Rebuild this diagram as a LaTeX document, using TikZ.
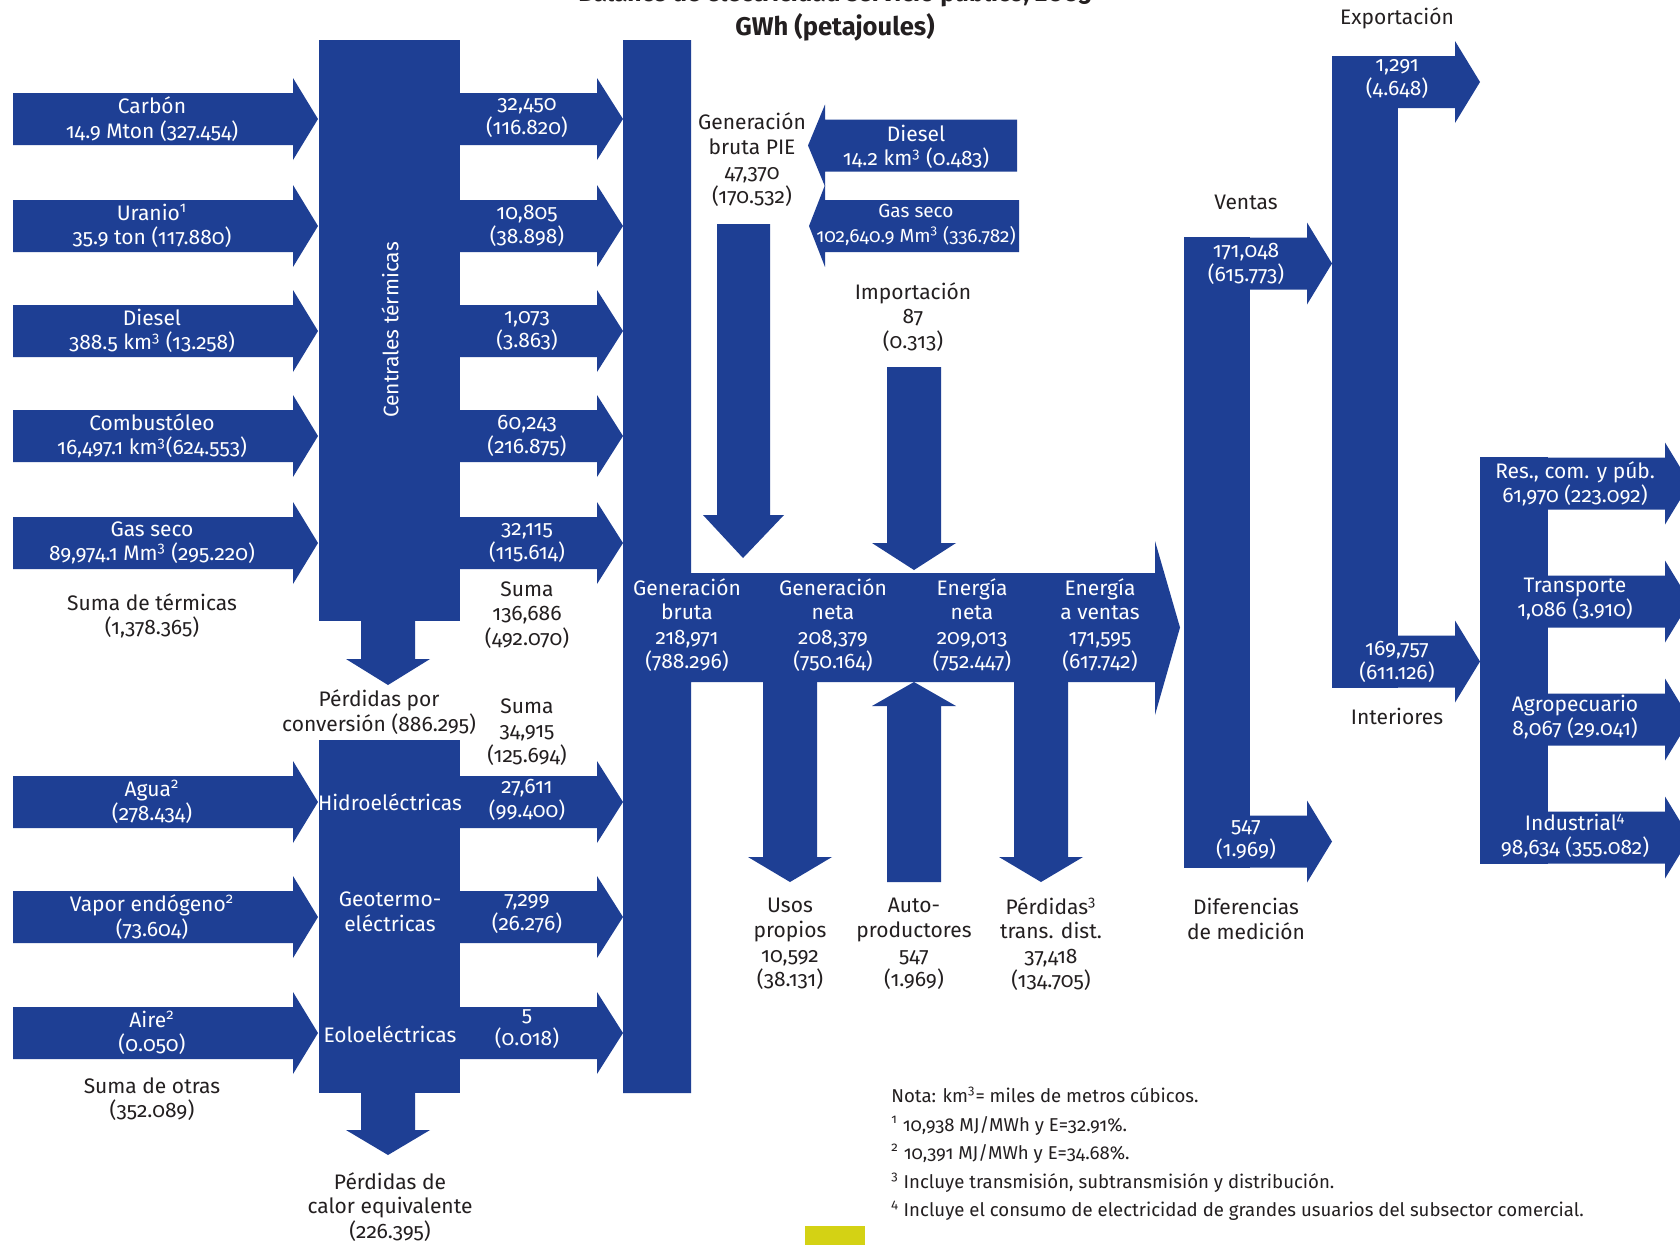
\documentclass[tikz,border=0pt]{standalone}
\usepackage{fontspec}
\setmainfont{Fira Sans}[Numbers=OldStyle]
\usepackage{tikz}
\tikzset{>=latex}
\usetikzlibrary{positioning}
\definecolor{azul}{RGB}{30,63,148}
\definecolor{olivo}{RGB}{212,210,20}
\definecolor{tinta}{RGB}{35,31,32}
\newcommand{\flecha}[4]{\fill[azul] (#1,#4-26) -- (#2,#4-26) -- (#2,#4-41) -- (#3,#4) -- (#2,#4+41) -- (#2,#4+26) -- (#1,#4+26) -- cycle;}
\newcommand{\flechav}[4]{\fill[azul] (#1-27,#2) -- (#1+27,#2) -- (#1+27,#3) -- (#1+42,#3) -- (#1,#4) -- (#1-42,#3) -- (#1-27,#3) -- cycle;}

\begin{document}
\begin{tikzpicture}[x=0.5pt,y=-0.5pt,
  blanco/.style={text=white,align=center,inner sep=0pt,font=\fontsize{10.5}{12.3}\selectfont},
  negro/.style={text=tinta,align=center,inner sep=0pt,font=\fontsize{10.5}{12.3}\selectfont}]
\useasboundingbox (0,0) rectangle (1680,1244);
\fill[white] (0,0) rectangle (1680,1244);

\node[text=tinta,anchor=base,font=\bfseries\fontsize{12.3}{14}\selectfont] (titulo) at (835,1) {Balance de electricidad servicio público, 2005};
\node[text=tinta,font=\bfseries\fontsize{12.8}{14}\selectfont] (unidades) at (835,27) {GWh (petajoules)};

% centrales
\fill[azul] (319,40) rectangle (460,621);
\fill[azul] (319,740) rectangle (460,1093);
\flechav{388}{621}{659}{685}
\flechav{388}{1093}{1130}{1155}
\foreach \y in {119,226,331,436,543,802,917,1033} {
  \flecha{13}{293}{318}{\y}
  \flecha{460}{597}{623}{\y}
}

% generacion bruta y flujo principal
\fill[azul] (623,40) -- (691,40) -- (691,573) -- (1155,573) -- (1155,541) -- (1180,627.5) -- (1155,715) -- (1155,682) -- (691,682) -- (691,1093) -- (623,1093) -- cycle;
\flecha{1017}{825}{808}{145.5}
\flecha{1019}{825}{809}{226}
\fill[azul] (717,224) -- (770,224) -- (770,515) -- (784,515) -- (743,558) -- (703,515) -- (717,515) -- cycle;
\flechav{914}{367}{543}{570}
\flechav{790}{682}{857}{882}
\flechav{914}{882}{706}{682}
\flechav{1041}{682}{857}{882}

% ventas, exportacion y sectores
\fill[azul] (1184,237) rectangle (1250,868);
\flecha{1184}{1307}{1332}{263.5}
\flecha{1184}{1307}{1332}{841.5}
\fill[azul] (1332,56) rectangle (1398,688);
\flecha{1332}{1455}{1480}{82}
\flecha{1332}{1455}{1480}{661.5}
\fill[azul] (1480,457) rectangle (1548,864);
\foreach \y in {483.5,601.5,719.5,837.5}
  \flecha{1480}{1665}{1690}{\y}
\fill[olivo] (805,1226) rectangle (865,1250);

% textos
\node[blanco] (carbon) at (152,119) {Carbón\\14.9 Mton (327.454)};
\node[blanco] (uranio) at (152,226) {Uranio\textsuperscript{1}\\35.9 ton (117.880)};
\node[blanco] (diesel) at (152,331) {Diesel\\388.5 km\textsuperscript{3} (13.258)};
\node[blanco] (combust) at (152,436) {Combustóleo\\16,497.1 km\textsuperscript{3}(624.553)};
\node[blanco] (gasseco) at (152,543) {Gas seco\\89,974.1 Mm\textsuperscript{3} (295.220)};
\node[negro] (sumaterm) at (152,616) {Suma de térmicas\\(1,378.365)};
\node[blanco,rotate=90] (centrales) at (390,330) {Centrales térmicas};
\node[blanco] (salcarbon) at (527,118) {32,450\\(116.820)};
\node[blanco] (saluranio) at (527,226) {10,805\\(38.898)};
\node[blanco] (saldiesel) at (527,331) {1,073\\(3.863)};
\node[blanco] (salcombust) at (527,436) {60,243\\(216.875)};
\node[blanco] (salgas) at (527,543) {32,115\\(115.614)};
\node[negro] (sumauno) at (527,615) {Suma\\136,686\\(492.070)};
\node[negro] (perdconv) at (379,712) {Pérdidas por\\conversión (886.295)};
\node[negro] (sumados) at (527,732) {Suma\\34,915\\(125.694)};

\node[blanco] (agua) at (152,802) {Agua\textsuperscript{2}\\(278.434)};
\node[blanco] (vapor) at (152,917) {Vapor endógeno\textsuperscript{2}\\(73.604)};
\node[blanco] (aire) at (152,1033) {Aire\textsuperscript{2}\\(0.050)};
\node[negro] (sumaotras) at (152,1099) {Suma de otras\\(352.089)};
\node[blanco] (hidro) at (390,802) {Hidroeléctricas};
\node[blanco] (geo) at (390,912) {Geotermo-\\eléctricas};
\node[blanco] (eolo) at (390,1034) {Eoloeléctricas};
\node[blanco] (salhidro) at (527,800) {27,611\\(99.400)};
\node[blanco] (salgeo) at (527,914) {7,299\\(26.276)};
\node[blanco] (saleolo) at (527,1029) {5\\(0.018)};
\node[negro] (perdcalor) at (390,1207) {Pérdidas de\\calor equivalente\\(226.395)};

\node[negro] (pie) at (752,160) {Generación\\bruta PIE\\47,370\\(170.532)};
\node[blanco] (dieselpie) at (916,147) {Diesel\\14.2 km\textsuperscript{3} (0.483)};
\node[blanco,font=\fontsize{9.5}{12.3}\selectfont] (gaspie) at (916,225) {Gas seco\\102,640.9 Mm\textsuperscript{3} (336.782)};
\node[negro] (importa) at (913,317) {Importación\\87\\(0.313)};
\node[blanco] (genbruta) at (687,625) {Generación\\bruta\\218,971\\(788.296)};
\node[blanco] (genneta) at (833,625) {Generación\\neta\\208,379\\(750.164)};
\node[blanco] (energneta) at (972,625) {Energía\\neta\\209,013\\(752.447)};
\node[blanco] (energvent) at (1100,625) {Energía\\a ventas\\171,595\\(617.742)};
\node[negro] (usos) at (790,944) {Usos\\propios\\10,592\\(38.131)};
\node[negro] (autoprod) at (914,944) {Auto-\\productores\\547\\(1.969)};
\node[negro] (perdtd) at (1051,944) {Pérdidas\textsuperscript{3}\\trans. dist.\\37,418\\(134.705)};

\node[negro] (ventas) at (1246,202) {Ventas};
\node[blanco] (salventas) at (1246,264) {171,048\\(615.773)};
\node[blanco] (saldif) at (1246,840) {547\\(1.969)};
\node[negro] (difmed) at (1246,919) {Diferencias\\de medición};
\node[negro] (exporta) at (1397,18) {Exportación};
\node[blanco] (salexporta) at (1397,79) {1,291\\(4.648)};
\node[blanco] (salinter) at (1397,662) {169,757\\(611.126)};
\node[negro] (inter) at (1397,716) {Interiores};
\node[blanco] (rescom) at (1575,484) {Res., com. y púb.\\61,970 (223.092)};
\node[blanco] (transp) at (1575,599) {Transporte\\1,086 (3.910)};
\node[blanco] (agro) at (1575,717) {Agropecuario\\8,067 (29.041)};
\node[blanco] (indus) at (1575,836) {Industrial\textsuperscript{4}\\98,634 (355.082)};

\node[negro,anchor=west,align=left,font=\fontsize{9.3}{14.25}\selectfont] (notas) at (891,1154) {Nota: km\textsuperscript{3}= miles de metros cúbicos.\\
\textsuperscript{1} 10,938 MJ/MWh y E=32.91\%.\\
\textsuperscript{2} 10,391 MJ/MWh y E=34.68\%.\\
\textsuperscript{3} Incluye transmisión, subtransmisión y distribución.\\
\textsuperscript{4} Incluye el consumo de electricidad de grandes usuarios del subsector comercial.};
\end{tikzpicture}
\end{document}
